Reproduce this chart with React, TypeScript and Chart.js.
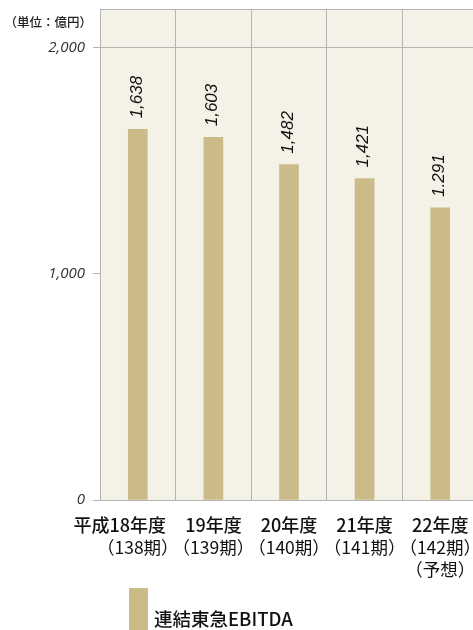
import React, { useEffect, useRef } from 'react';
import { Chart, registerables } from 'chart.js';

Chart.register(...registerables);

const eraPrefix = '平成';
const categories = ['平成18年度', '19年度', '20年度', '21年度', '22年度'];
const periods = ['（138期）', '（139期）', '（140期）', '（141期）', '（142期）'];
const notes = ['', '', '', '', '（予想）'];
const ebitda = [1638, 1603, 1482, 1421, 1291];
const valueLabels = ['1,638', '1,603', '1,482', '1,421', '1.291'];
const yTicks = [0, 1000, 2000];
const yTickLabels = ['0', '1,000', '2,000'];
const seriesName = '連結東急EBITDA';
const unitLabel = '（単位：億円）';

const BAR = '#cbbb88';
const BG = '#f4f1e6';
const GRID = '#b4b4b4';
const CJK = '"Noto Sans CJK JP", sans-serif';

export default function App() {
  const ref = useRef<HTMLCanvasElement>(null);
  useEffect(() => {
    if (!ref.current) return;
    const deco = {
      id: 'deco',
      beforeDraw(chart: any) {
        const { ctx, chartArea: a } = chart;
        ctx.save();
        ctx.fillStyle = BG;
        ctx.fillRect(a.left, a.top, a.right - a.left, a.bottom - a.top);
        ctx.restore();
      },
      beforeDatasetsDraw(chart: any) {
        const { ctx, chartArea: a } = chart;
        ctx.save();
        ctx.strokeStyle = GRID;
        ctx.lineWidth = 1;
        ctx.beginPath();
        ctx.moveTo(a.left, a.top + 0.5);
        ctx.lineTo(a.right, a.top + 0.5);
        ctx.stroke();
        ctx.restore();
      },
      afterDatasetsDraw(chart: any) {
        const { ctx } = chart;
        const meta = chart.getDatasetMeta(0);
        ctx.save();
        ctx.fillStyle = '#111';
        ctx.font = 'italic 17px "Liberation Sans", Arial, sans-serif';
        meta.data.forEach((bar: any, i: number) => {
          ctx.save();
          ctx.translate(bar.x - 1, bar.y - 11);
          ctx.rotate(-Math.PI / 2);
          ctx.textAlign = 'left';
          ctx.textBaseline = 'middle';
          ctx.fillText(valueLabels[i], 0, 0);
          ctx.restore();
        });
        ctx.restore();
      },
      afterDraw(chart: any) {
        const { ctx } = chart;
        const xs = chart.scales.x;
        ctx.save();
        ctx.fillStyle = '#111';
        ctx.textBaseline = 'middle';
        categories.forEach((c, i) => {
          const x = xs.getPixelForValue(i);
          ctx.font = '500 18px ' + CJK;
          if (c.startsWith(eraPrefix)) {
            const rest = c.slice(eraPrefix.length);
            const w = ctx.measureText(rest).width;
            ctx.textAlign = 'center';
            ctx.fillText(rest, x, 525);
            ctx.textAlign = 'right';
            ctx.fillText(eraPrefix, x - w / 2, 525);
          } else {
            ctx.textAlign = 'center';
            ctx.fillText(c, x, 525);
          }
          ctx.textAlign = 'center';
          ctx.font = '17.5px ' + CJK;
          ctx.fillText(periods[i], x, 547);
          if (notes[i]) ctx.fillText(notes[i], x, 569);
        });
        // unit label
        ctx.font = '500 12.5px ' + CJK;
        ctx.textAlign = 'right';
        ctx.fillStyle = '#222';
        ctx.fillText(unitLabel, 92, 22.5);
        // legend
        ctx.fillStyle = BAR;
        ctx.fillRect(129, 588, 19, 45);
        ctx.fillStyle = '#111';
        ctx.textAlign = 'left';
        ctx.font = '500 18.5px ' + CJK;
        ctx.fillText(seriesName, 154, 619);
        ctx.restore();
      },
    };
    const chart = new Chart(ref.current, {
      type: 'bar',
      data: {
        labels: categories,
        datasets: [
          {
            label: seriesName,
            data: ebitda,
            backgroundColor: BAR,
            barThickness: 19,
          },
        ],
      },
      options: {
        responsive: false,
        animation: false,
        devicePixelRatio: 1,
        layout: { padding: { top: 9, right: 2, left: 0, bottom: 0 } },
        plugins: { legend: { display: false }, tooltip: { enabled: false } },
        scales: {
          x: {
            offset: true,
            grid: { offset: true, color: GRID, drawTicks: false },
            border: { display: true, color: GRID },
            ticks: { display: false },
            afterFit(s: any) {
              s.height = 130;
              s.paddingLeft = 0;
              s.paddingRight = 0;
            },
          },
          y: {
            min: 0,
            max: 2170,
            afterBuildTicks(s: any) {
              s.ticks = yTicks.map((v) => ({ value: v }));
            },
            afterFit(s: any) {
              s.width = 100;
              s.paddingTop = 0;
              s.paddingBottom = 0;
            },
            grid: {
              color: (c: any) => (c.tick && c.tick.value === 1000 ? 'rgba(0,0,0,0)' : GRID),
              tickColor: GRID,
              tickLength: 7,
            },
            border: { display: true, color: GRID },
            ticks: {
              padding: 8,
              color: '#333',
              font: { family: '"Open Sans", sans-serif', size: 15, style: 'italic' },
              callback: (v: any) => {
                const i = yTicks.indexOf(Number(v));
                return i >= 0 ? yTickLabels[i] : '';
              },
            },
          },
        },
      },
      plugins: [deco],
    } as any);
    return () => chart.destroy();
  }, []);
  return (
    <div style={{ position: 'fixed', left: 0, top: 0, width: 473, height: 630, overflow: 'hidden', background: '#fff' }}>
      <canvas ref={ref} width={480} height={630} style={{ display: 'block', width: 480, height: 630 }} />
    </div>
  );
}
